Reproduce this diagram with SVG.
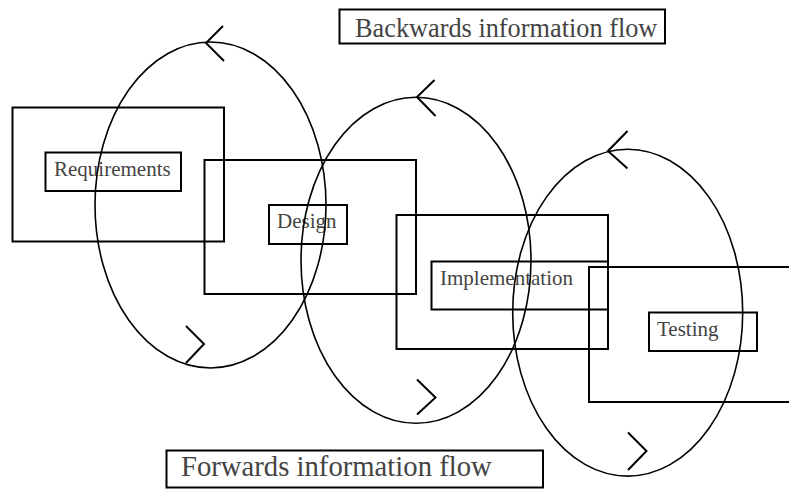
<svg xmlns="http://www.w3.org/2000/svg" width="789" height="489" viewBox="0 0 789 489">
  <style>
    .frame { fill: none; stroke: #000; stroke-width: 2; }
    .tag { fill: none; stroke: #000; stroke-width: 2; }
    .lbl { font-family: "Liberation Serif", "Times New Roman", serif; font-size: 21px; fill: #444; }
    .cap { font-family: "Liberation Serif", "Times New Roman", serif; fill: #444; }
    .loop { fill: none; stroke: #000; stroke-width: 1.6; }
    .head { fill: none; stroke: #000; stroke-width: 2; stroke-linejoin: miter; }
  </style>

  <!-- phase blocks -->
  <g id="requirements">
    <rect class="frame" x="12.5" y="107.5" width="211.5" height="134"/>
    <rect class="tag" x="45.5" y="152.5" width="135.5" height="38.5"/>
    <text class="lbl" x="54" y="176">Requirements</text>
  </g>
  <g id="design">
    <rect class="frame" x="204.5" y="160" width="211.5" height="134"/>
    <rect class="tag" x="269" y="205" width="78" height="39"/>
    <text class="lbl" x="277" y="227.5">Design</text>
  </g>
  <g id="implementation">
    <rect class="frame" x="396.5" y="215" width="211.5" height="134"/>
    <rect class="tag" x="431.5" y="261.5" width="176.5" height="48"/>
    <text class="lbl" x="440" y="285">Implementation</text>
  </g>
  <g id="testing">
    <rect class="frame" x="589" y="267" width="210" height="135"/>
    <rect class="tag" x="649" y="312.5" width="108" height="38.5"/>
    <text class="lbl" x="657" y="336">Testing</text>
  </g>

  <!-- captions -->
  <g id="backwards-caption">
    <rect class="frame" x="339.5" y="9.5" width="325.5" height="34"/>
    <text class="cap" x="355" y="36.5" font-size="26.3">Backwards information flow</text>
  </g>
  <g id="forwards-caption">
    <rect class="frame" x="166.5" y="450.5" width="376.5" height="37"/>
    <text class="cap" x="181" y="476" font-size="28.7">Forwards information flow</text>
  </g>

  <!-- feedback loops between phases -->
  <g id="connectors">
    <ellipse class="loop" cx="210.5" cy="205" rx="115.5" ry="163"/>
    <polyline class="head" points="223,26 206,43 224,61"/>
    <polyline class="head" points="186,326 204,344 186,363"/>

    <ellipse class="loop" cx="416" cy="260.3" rx="115" ry="163"/>
    <polyline class="head" points="434.5,80 417,97 435.5,116"/>
    <polyline class="head" points="417,379.5 435.5,397.5 417,414.5"/>

    <ellipse class="loop" cx="627.7" cy="312.7" rx="115" ry="163.4"/>
    <polyline class="head" points="627.5,131 608,151 627.5,168.5"/>
    <polyline class="head" points="628,432.5 646.5,451 628,470"/>
  </g>
</svg>
